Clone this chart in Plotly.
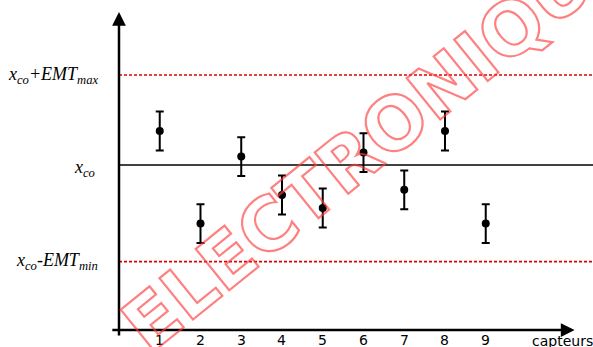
import plotly.graph_objects as go

# Sensor readings relative to the conventional value x_co (arbitrary units)
capteurs = [1, 2, 3, 4, 5, 6, 7, 8, 9]
mesures = [1.7, -2.93, 0.42, -1.5, -2.15, 0.62, -1.24, 1.7, -2.93]
incertitude = [0.97, 0.97, 0.97, 0.97, 0.97, 0.97, 0.97, 0.97, 0.97]
emt_max = 4.5
emt_min = -4.83
tick_labels = ["1", "2", "3", "4", "5", "6", "7", "8", "9"]

W, H = 593, 347
XR = [-2.92, 11.632]
YR = [-9.1, 8.25]
X_AXIS_Y = -8.25   # level of the horizontal axis
Y_AXIS_TOP = 7.65
X_AXIS_END = 11.18

fig = go.Figure()

fig.add_trace(go.Scatter(
    x=capteurs, y=mesures, mode="markers",
    marker=dict(color="black", size=8),
    error_y=dict(type="data", array=incertitude, visible=True,
                 color="black", thickness=2, width=4),
    showlegend=False, cliponaxis=False,
))

shapes = [
    dict(type="line", xref="x", yref="y", x0=0, x1=XR[1], y0=0, y1=0,
         line=dict(color="black", width=1.5)),
    dict(type="line", xref="x", yref="y", x0=0, x1=XR[1], y0=emt_max, y1=emt_max,
         line=dict(color="#dd0000", width=1.6, dash="3px,2px")),
    dict(type="line", xref="x", yref="y", x0=0, x1=XR[1], y0=emt_min, y1=emt_min,
         line=dict(color="#dd0000", width=1.6, dash="3px,2px")),
]

annotations = []
# axes drawn as arrows
annotations.append(dict(x=0, y=Y_AXIS_TOP, ax=0, ay=-8.6, xref="x", yref="y",
                        axref="x", ayref="y", text="", showarrow=True,
                        arrowhead=2, arrowsize=1.1, arrowwidth=2.5, arrowcolor="black"))
annotations.append(dict(x=X_AXIS_END, y=X_AXIS_Y, ax=-0.2, ay=X_AXIS_Y, xref="x", yref="y",
                        axref="x", ayref="y", text="", showarrow=True,
                        arrowhead=2, arrowsize=1.1, arrowwidth=2.5, arrowcolor="black"))

tick_font = dict(family="DejaVu Sans", size=14, color="black")
for xv, lab in zip(capteurs, tick_labels):
    annotations.append(dict(x=xv, y=-8.75, xref="x", yref="y", text=lab,
                            showarrow=False, xanchor="center", yanchor="middle",
                            font=tick_font))
annotations.append(dict(x=10.086, y=-8.75, xref="x", yref="y", text="capteurs",
                        showarrow=False, xanchor="left", yanchor="middle",
                        yshift=-1, font=tick_font))

lab_font = dict(family="Liberation Serif", size=18, color="black")
annotations.append(dict(x=-0.46, y=emt_max, xref="x", yref="y",
                        text="<i>x<sub>co</sub>+EMT<sub>max</sub></i>",
                        showarrow=False, xanchor="right", yanchor="middle", font=lab_font))
annotations.append(dict(x=-0.54, y=0, xref="x", yref="y",
                        text="<i>x<sub>co</sub></i>", yshift=-3,
                        showarrow=False, xanchor="right", yanchor="middle", font=lab_font))
annotations.append(dict(x=-0.46, y=emt_min, xref="x", yref="y",
                        text="<i>x<sub>co</sub>-EMT<sub>min</sub></i>",
                        showarrow=False, xanchor="right", yanchor="middle", font=lab_font))

# diagonal stamp
annotations.append(dict(x=376 / W, y=1 - 138 / H, xref="paper", yref="paper",
                        text="ELECTRONIQUE", textangle=-39, showarrow=False,
                        xanchor="center", yanchor="middle",
                        font=dict(family="DejaVu Sans", size=73,
                                  color="rgba(255,0,0,0.5)", weight=700)))

fig.update_layout(
    width=W, height=H, margin=dict(l=0, r=0, t=0, b=0),
    paper_bgcolor="white", plot_bgcolor="white",
    xaxis=dict(range=XR, visible=False, fixedrange=True),
    yaxis=dict(range=YR, visible=False, fixedrange=True),
    shapes=shapes, annotations=annotations,
)

outline_js = """
var gd = document.getElementById('{plot_id}');
gd.querySelectorAll('text.annotation-text').forEach(function(t){
  if (t.textContent === 'ELECTRONIQUE') {
    t.style.fill = 'none';
    t.style.stroke = 'rgba(255,60,60,0.65)';
    t.style.strokeWidth = '2.2px';
  }
});
"""

fig.write_html("out.html", post_script=outline_js)
